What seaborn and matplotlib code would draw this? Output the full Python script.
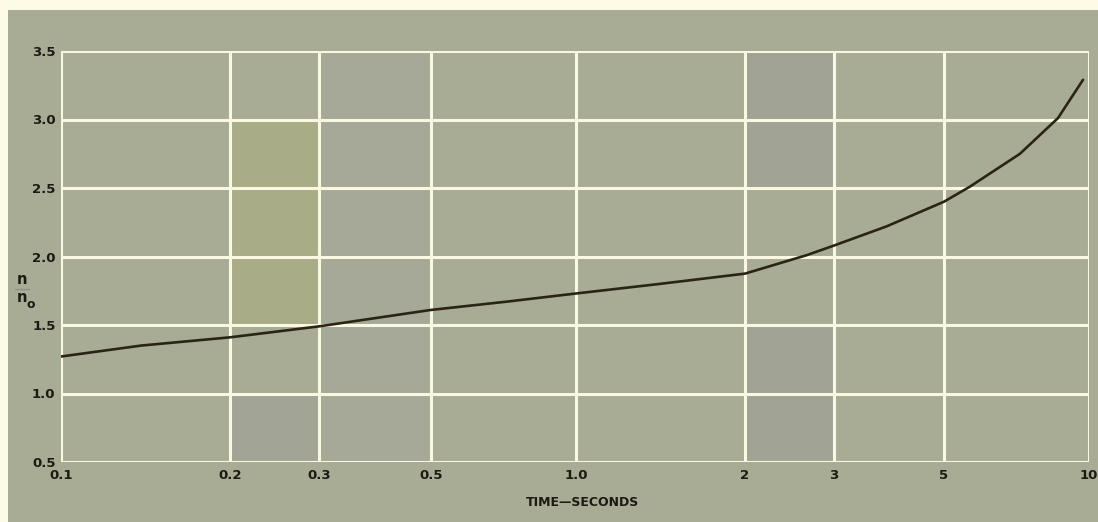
import numpy as np
import pandas as pd
import matplotlib
matplotlib.use("Agg")
import matplotlib.pyplot as plt
from matplotlib.patches import Rectangle
from matplotlib.lines import Line2D
import seaborn as sns

# values
time_s = [0.1, 0.139, 0.2, 0.3, 0.5, 0.716, 1.0, 1.41, 2.0, 2.65, 3.0, 3.83, 5.0, 5.66, 7.19, 8.62, 9.72]
ratio = [1.27, 1.35, 1.41, 1.49, 1.61, 1.67, 1.73, 1.80, 1.875, 2.01, 2.08, 2.22, 2.40, 2.51, 2.75, 3.01, 3.29]

x_ticks = [0.1, 0.2, 0.3, 0.5, 1.0, 2, 3, 5, 10]
x_labels = ["0.1", "0.2", "0.3", "0.5", "1.0", "2", "3", "5", "10"]
y_ticks = [0.5, 1.0, 1.5, 2.0, 2.5, 3.0, 3.5]
y_labels = ["0.5", "1.0", "1.5", "2.0", "2.5", "3.0", "3.5"]

# the printed log axis is hand drawn: where each tick sits along the axis (0..1)
tick_frac = np.array([0, 169, 258, 370, 515, 684, 773, 883, 1028]) / 1028
log_ticks = np.log10(x_ticks)


def fwd(x):
    lx = np.log10(np.clip(np.asarray(x, dtype=float), 1e-6, None))
    return np.interp(lx, log_ticks, tick_frac)


def inv(f):
    return 10 ** np.interp(np.asarray(f, dtype=float), tick_frac, log_ticks)


df = pd.DataFrame({"time": time_s, "ratio": ratio})

bg = "#a9ac94"
grid_col = "#fbf8e2"
cream = "#fdfbe6"
ink = "#1c1a12"

# faded cells of the printed grid (x from, x to, y from, y to, colour)
tinted_cells = [
    (0.2, 0.3, 1.5, 3.0, "#a8ad88"),
    (0.2, 0.3, 0.5, 1.0, "#a2a595"),
    (0.3, 0.5, 0.5, 3.5, "#a6a998"),
    (2, 3, 2.5, 3.5, "#a1a494"),
    (2, 3, 0.5, 1.5, "#a1a494"),
]

sns.set_style("white")
plt.rcParams["font.family"] = ["DejaVu Sans"]

fig = plt.figure(figsize=(10.98, 5.22), dpi=100)
fig.patch.set_facecolor(cream)
fig.patches.append(Rectangle((8 / 1098, 0), 1, 1 - 10 / 522, transform=fig.transFigure,
                             facecolor=bg, edgecolor="none", zorder=-10))

ax = fig.add_axes([61 / 1098, 1 - 462 / 522, (1089 - 61) / 1098, (462 - 51) / 522])
ax.set_zorder(1)
ax.set_facecolor(bg)

ax.set_xscale("function", functions=(fwd, inv))
for x0, x1, y0, y1, c in tinted_cells:
    ax.fill_between([x0, x1], y0, y1, color=c, linewidth=0, zorder=0.5)

sns.lineplot(data=df, x="time", y="ratio", ax=ax, color="#2a2414", linewidth=1.9, zorder=3)

ax.set_xlim(0.1, 10)
ax.set_ylim(0.5, 3.5)
ax.set_xticks(x_ticks)
ax.set_xticklabels(x_labels)
ax.set_xticks([], minor=True)
ax.set_yticks(y_ticks)
ax.set_yticklabels(y_labels)

for v in x_ticks:
    ax.axvline(v, color=grid_col, linewidth=2.2, zorder=1)
for v in y_ticks:
    ax.axhline(v, color=grid_col, linewidth=2.2, zorder=1)

for s in ax.spines.values():
    s.set_visible(False)

ax.tick_params(axis="both", length=0, labelsize=9.5, colors=ink)
ax.tick_params(axis="x", pad=5)
ax.tick_params(axis="y", pad=4)
for lab in ax.get_xticklabels() + ax.get_yticklabels():
    lab.set_fontweight("bold")

ax.set_xlabel("")
ax.set_ylabel("")
fig.text(583 / 1098, 1 - 503 / 522, "TIME\u2014SECONDS", ha="center", va="center",
         fontsize=9, fontweight="bold", color=ink)

# n over n_o
fig.text(22 / 1098, 1 - 279 / 522, "n", ha="center", va="center", fontsize=10.5,
         fontweight="bold", color=ink)
fig.lines.append(Line2D([15 / 1098, 29 / 1098], [1 - 289 / 522, 1 - 289 / 522],
                        transform=fig.transFigure, color="#8e9082", linewidth=1.0))
fig.text(22 / 1098, 1 - 298 / 522, "n", ha="center", va="center", fontsize=10.5,
         fontweight="bold", color=ink)
fig.text(31 / 1098, 1 - 305 / 522, "o", ha="center", va="center", fontsize=9,
         fontweight="bold", color=ink)

fig.savefig("out.png", dpi=100, facecolor=fig.get_facecolor())
